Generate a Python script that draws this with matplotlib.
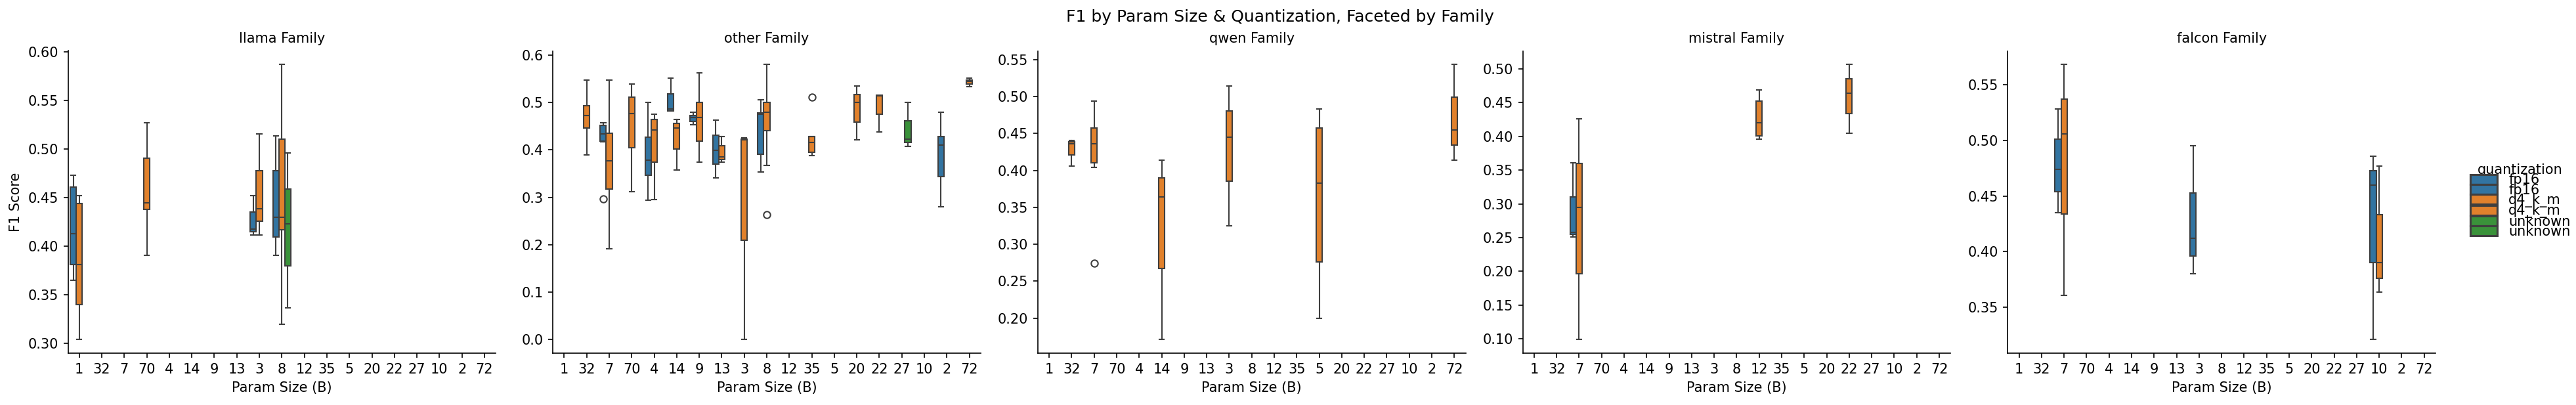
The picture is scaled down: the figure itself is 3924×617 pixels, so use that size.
import matplotlib
matplotlib.use("Agg")
import matplotlib.pyplot as plt
from matplotlib.patches import Patch

# ---------------- data ----------------
param_sizes = ["1", "32", "7", "70", "4", "14", "9", "13", "3", "8",
               "12", "35", "5", "20", "22", "27", "10", "2", "72"]
quant_levels = ["fp16", "q4_k_m", "unknown"]
quant_colors = ["#3274a1", "#e1812c", "#3a923a"]
families = ["llama", "other", "qwen", "mistral", "falcon"]

# llama
llama_size = ["1", "1", "70", "3", "3", "8", "8", "8"]
llama_quant = ["fp16", "q4_k_m", "q4_k_m", "fp16", "q4_k_m", "fp16", "q4_k_m", "unknown"]
llama_lo = [0.365, 0.304, 0.391, 0.412, 0.412, 0.391, 0.320, 0.337]
llama_q1 = [0.381, 0.340, 0.438, 0.415, 0.426, 0.410, 0.417, 0.380]
llama_med = [0.413, 0.381, 0.445, 0.418, 0.439, 0.430, 0.430, 0.423]
llama_q3 = [0.461, 0.444, 0.491, 0.435, 0.478, 0.478, 0.510, 0.459]
llama_hi = [0.473, 0.452, 0.527, 0.452, 0.516, 0.514, 0.587, 0.496]
llama_fliers = [[], [], [], [], [], [], [], []]

# other
other_size = ["32", "7", "7", "70", "4", "4", "14", "14", "9", "9", "13", "13",
              "3", "8", "8", "35", "20", "22", "27", "2", "72"]
other_quant = ["q4_k_m", "fp16", "q4_k_m", "q4_k_m", "fp16", "q4_k_m", "fp16", "q4_k_m",
               "fp16", "q4_k_m", "fp16", "q4_k_m", "q4_k_m", "fp16", "q4_k_m", "q4_k_m",
               "q4_k_m", "q4_k_m", "unknown", "fp16", "q4_k_m"]
other_lo = [0.389, 0.417, 0.192, 0.312, 0.294, 0.296, 0.482, 0.358, 0.453, 0.374, 0.341,
            0.374, 0.000, 0.353, 0.368, 0.388, 0.421, 0.438, 0.408, 0.280, 0.533]
other_q1 = [0.446, 0.418, 0.317, 0.405, 0.347, 0.375, 0.483, 0.402, 0.460, 0.419, 0.370,
            0.380, 0.210, 0.391, 0.441, 0.395, 0.459, 0.476, 0.416, 0.344, 0.539]
other_med = [0.473, 0.434, 0.377, 0.477, 0.379, 0.442, 0.486, 0.446, 0.469, 0.469, 0.399,
             0.386, 0.421, 0.476, 0.479, 0.416, 0.500, 0.514, 0.423, 0.410, 0.544]
other_q3 = [0.494, 0.452, 0.435, 0.511, 0.427, 0.464, 0.519, 0.456, 0.473, 0.500, 0.431,
            0.409, 0.423, 0.478, 0.500, 0.428, 0.517, 0.516, 0.462, 0.428, 0.548]
other_hi = [0.547, 0.458, 0.547, 0.539, 0.500, 0.476, 0.552, 0.464, 0.479, 0.562, 0.463,
            0.429, 0.425, 0.506, 0.580, 0.428, 0.535, 0.516, 0.500, 0.479, 0.551]
other_fliers = [[], [0.297], [], [], [], [], [], [], [], [], [], [],
                [], [], [0.264], [0.512], [], [], [], [], []]

# qwen
qwen_size = ["32", "7", "14", "3", "5", "72"]
qwen_quant = ["q4_k_m"] * 6
qwen_lo = [0.406, 0.404, 0.171, 0.325, 0.200, 0.414]
qwen_q1 = [0.421, 0.410, 0.267, 0.385, 0.276, 0.434]
qwen_med = [0.436, 0.436, 0.364, 0.445, 0.383, 0.455]
qwen_q3 = [0.439, 0.457, 0.390, 0.480, 0.457, 0.499]
qwen_hi = [0.440, 0.494, 0.414, 0.514, 0.483, 0.543]
qwen_fliers = [[], [0.2745], [], [], [], []]

# mistral
mistral_size = ["7", "7", "12", "22"]
mistral_quant = ["fp16", "q4_k_m", "q4_k_m", "q4_k_m"]
mistral_lo = [0.251, 0.099, 0.396, 0.404]
mistral_q1 = [0.255, 0.197, 0.401, 0.434]
mistral_med = [0.258, 0.295, 0.420, 0.464]
mistral_q3 = [0.310, 0.360, 0.452, 0.485]
mistral_hi = [0.361, 0.426, 0.469, 0.506]
mistral_fliers = [[], [], [], []]

# falcon
falcon_size = ["7", "7", "3", "10", "10"]
falcon_quant = ["fp16", "q4_k_m", "fp16", "fp16", "q4_k_m"]
falcon_lo = [0.435, 0.361, 0.380, 0.321, 0.364]
falcon_q1 = [0.454, 0.434, 0.396, 0.390, 0.376]
falcon_med = [0.474, 0.506, 0.412, 0.460, 0.390]
falcon_q3 = [0.501, 0.537, 0.453, 0.473, 0.433]
falcon_hi = [0.528, 0.568, 0.495, 0.486, 0.477]
falcon_fliers = [[], [], [], [], []]

family_data = {
    "llama": (llama_size, llama_quant, llama_lo, llama_q1, llama_med, llama_q3, llama_hi, llama_fliers),
    "other": (other_size, other_quant, other_lo, other_q1, other_med, other_q3, other_hi, other_fliers),
    "qwen": (qwen_size, qwen_quant, qwen_lo, qwen_q1, qwen_med, qwen_q3, qwen_hi, qwen_fliers),
    "mistral": (mistral_size, mistral_quant, mistral_lo, mistral_q1, mistral_med, mistral_q3, mistral_hi, mistral_fliers),
    "falcon": (falcon_size, falcon_quant, falcon_lo, falcon_q1, falcon_med, falcon_q3, falcon_hi, falcon_fliers),
}

# ---------------- style ----------------
plt.rcParams["font.family"] = ["DejaVu Sans"]
plt.rcParams["font.size"] = 10
LINE = "#3f3f3f"
LW = 1.0
DPI = 150
W, H = 3924, 617

fig = plt.figure(figsize=(W / DPI, H / DPI), dpi=DPI)

ax_left0 = 103.6
ax_pitch = 738.7
ax_w = 651.5
ax_top = 77.5
ax_bot = 538.4

n_hue = len(quant_levels)
box_w = 0.8 / n_hue

for i, fam in enumerate(families):
    sizes, quants, lo, q1, med, q3, hi, fl = family_data[fam]
    ax = fig.add_axes([(ax_left0 + i * ax_pitch) / W, (H - ax_bot) / H,
                       ax_w / W, (ax_bot - ax_top) / H])
    stats, positions, colors = [], [], []
    for s, q, a, b, c, d, e, f in zip(sizes, quants, lo, q1, med, q3, hi, fl):
        stats.append(dict(whislo=a, q1=b, med=c, q3=d, whishi=e, fliers=f))
        hidx = quant_levels.index(q)
        positions.append(param_sizes.index(s) + (hidx - (n_hue - 1) / 2) * box_w)
        colors.append(quant_colors[hidx])
    bp = ax.bxp(stats, positions=positions, widths=box_w, patch_artist=True,
                showfliers=True, capwidths=box_w * 0.8, manage_ticks=False,
                boxprops=dict(edgecolor=LINE, linewidth=LW),
                whiskerprops=dict(color=LINE, linewidth=LW),
                capprops=dict(color=LINE, linewidth=LW),
                medianprops=dict(color=LINE, linewidth=LW),
                flierprops=dict(marker="o", markerfacecolor="none",
                                markeredgecolor=LINE, markersize=5,
                                markeredgewidth=LW))
    for patch, col in zip(bp["boxes"], colors):
        patch.set_facecolor(col)
    ax.set_xlim(-0.5, len(param_sizes) - 0.5)
    ax.set_xticks(range(len(param_sizes)))
    ax.set_xticklabels(param_sizes)
    ax.spines["top"].set_visible(False)
    ax.spines["right"].set_visible(False)
    ax.set_title(f"{fam} Family", fontsize=10)
    ax.set_xlabel("Param Size (B)")
    if i == 0:
        ax.set_ylabel("F1 Score")

fig.suptitle("F1 by Param Size & Quantization, Faceted by Family",
             x=1950 / W, y=1 - 25.6 / H, va="center", fontsize=12)

handles, labels = [], []
for q, col in zip(quant_levels, quant_colors):
    for _ in range(2):
        handles.append(Patch(facecolor=col, edgecolor=LINE, linewidth=LW * 1.5))
        labels.append(q)


def make_legend(spacing):
    return fig.legend(handles, labels, title="quantization", loc="center left",
                      bbox_to_anchor=(3744 / W, 1 - 306 / H), frameon=False,
                      labelspacing=spacing, handleheight=0.73, handlelength=2.0,
                      handletextpad=0.8, fontsize=10, title_fontsize=10)


# measure the natural row pitch, then tighten rows so handles touch (as in the reference)
leg = make_legend(0.0)
fig.canvas.draw()
r = fig.canvas.get_renderer()
hb = [h.get_window_extent(r) for h in leg.legend_handles]
pitch0 = abs(hb[0].y0 - hb[1].y0)
target_pitch = 15.3
font_px = 10 * DPI / 72
leg.remove()
leg = make_legend((target_pitch - pitch0) / font_px)

fig.savefig("out.png", dpi=DPI)
